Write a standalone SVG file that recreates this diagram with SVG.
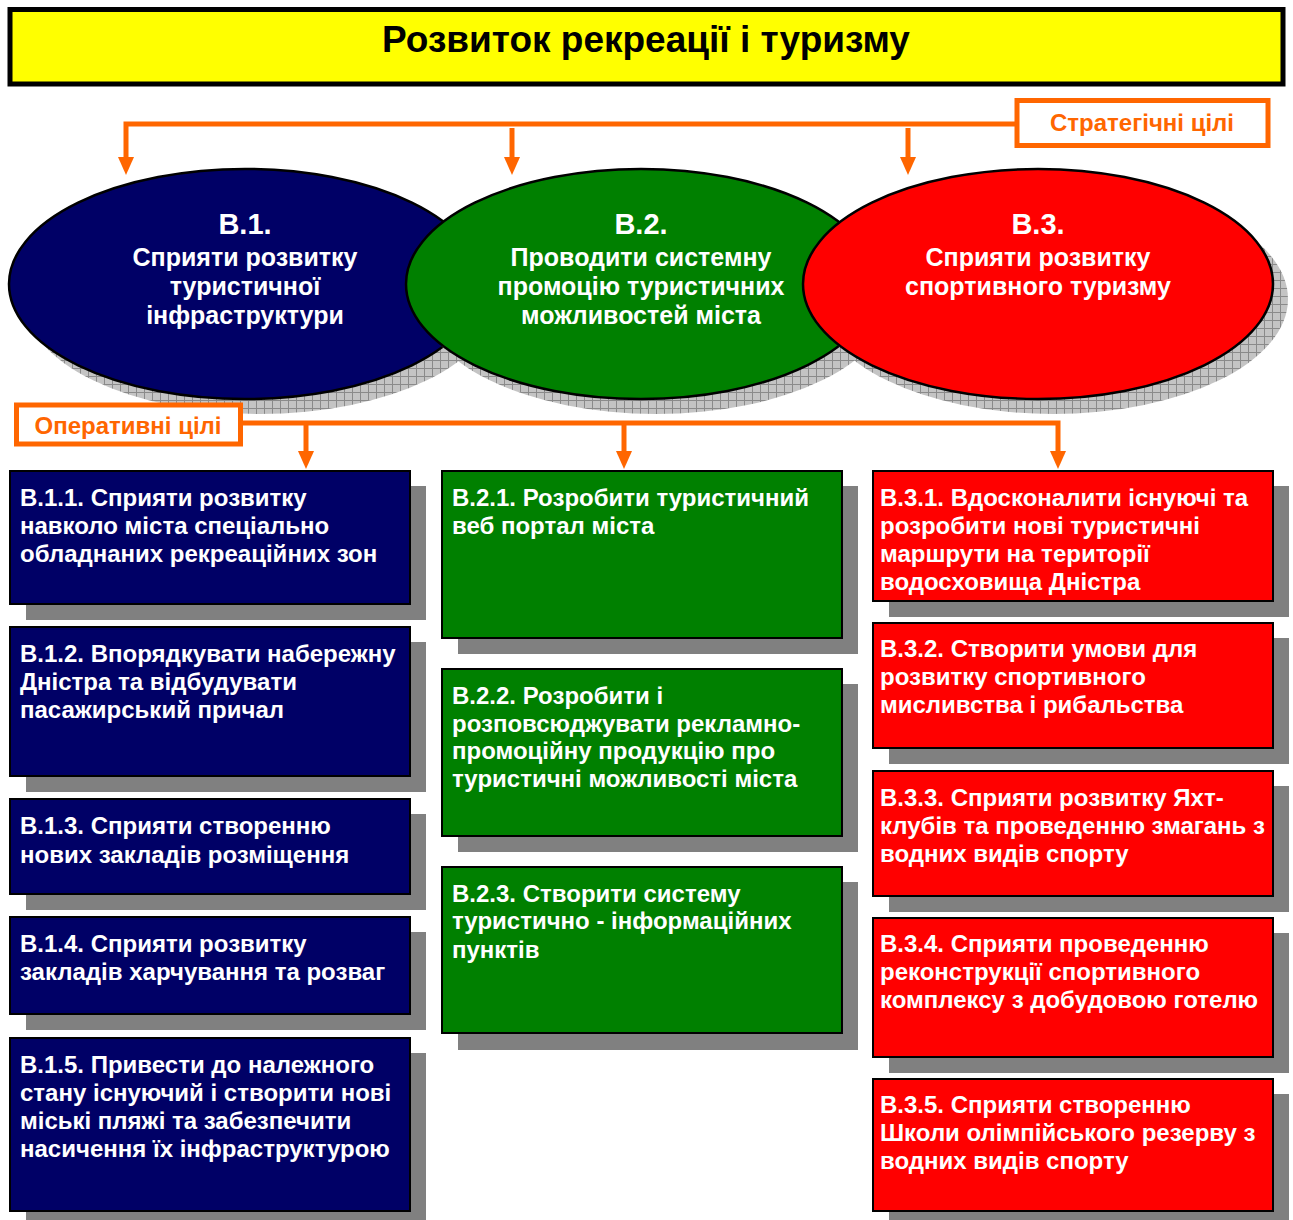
<svg xmlns="http://www.w3.org/2000/svg" width="1293" height="1220" viewBox="0 0 1293 1220">
<defs>
<pattern id="hatch" width="8" height="8" patternUnits="userSpaceOnUse">
<rect width="8" height="8" fill="#c4c4c4"/>
<path d="M0 0.5H8M0.5 0V8" stroke="#8a8a8a" stroke-width="1"/>
</pattern>
<marker id="arr" markerUnits="userSpaceOnUse" markerWidth="18" markerHeight="16" refX="0" refY="8" orient="auto" viewBox="0 0 18 16">
<path d="M0 0L18 8L0 16Z" fill="#FF6600"/>
</marker>
<style>
.ttl{font-family:"Liberation Sans",Arial,sans-serif;font-weight:bold;font-size:37px;fill:#000;text-anchor:middle}
.lbl{font-family:"Liberation Sans",Arial,sans-serif;font-weight:bold;font-size:24px;fill:#FF6600;text-anchor:middle}
.ell{stroke:#000;stroke-width:2.5}
.sh{fill:url(#hatch)}
.et{font-family:"Liberation Sans",Arial,sans-serif;font-weight:bold;fill:#fff;text-anchor:middle}
.eh{font-size:29px}
.eb{font-size:25px}
.box{stroke:#000;stroke-width:2}
.bsh{fill:#808080}
.bt{font-family:"Liberation Sans",Arial,sans-serif;font-weight:bold;font-size:24px;fill:#fff}
.con{fill:none;stroke:#FF6600;stroke-width:5}
.b1{fill:#000066}.b2{fill:#008000}.b3{fill:#FF0000}
</style>
</defs>

<g id="title">
<rect x="10" y="9.5" width="1273" height="74.5" fill="#FFFF00" stroke="#000" stroke-width="5"/>
<text class="ttl" x="646" y="52">Розвиток рекреації і туризму</text>
</g>

<g id="connectors">
<path class="con" d="M1017 124H126V157" marker-end="url(#arr)"/>
<path class="con" d="M512 128V157" marker-end="url(#arr)"/>
<path class="con" d="M908 128V157" marker-end="url(#arr)"/>
<path class="con" d="M241 423H1058V451" marker-end="url(#arr)"/>
<path class="con" d="M306 423V451" marker-end="url(#arr)"/>
<path class="con" d="M624 423V451" marker-end="url(#arr)"/>
</g>

<g id="label-strategic">
<rect x="1017" y="100.5" width="251" height="45" fill="#fff" stroke="#FF6600" stroke-width="5"/>
<text class="lbl" x="1142" y="131">Стратегічні цілі</text>
</g>

<g id="B1">
<ellipse class="sh" cx="260" cy="299" rx="236" ry="115"/>
<ellipse class="ell" cx="245" cy="284" rx="236" ry="115" fill="#000066"/>
<text class="et eh" x="245" y="234">B.1.</text>
<text class="et eb" x="245" y="266">Сприяти розвитку</text>
<text class="et eb" x="245" y="295">туристичної</text>
<text class="et eb" x="245" y="324">інфраструктури</text>
</g>
<g id="B2">
<ellipse class="sh" cx="656" cy="299" rx="235" ry="115"/>
<ellipse class="ell" cx="641" cy="284" rx="235" ry="115" fill="#008000"/>
<text class="et eh" x="641" y="234">B.2.</text>
<text class="et eb" x="641" y="266">Проводити системну</text>
<text class="et eb" x="641" y="295">промоцію туристичних</text>
<text class="et eb" x="641" y="324">можливостей міста</text>
</g>
<g id="B3">
<ellipse class="sh" cx="1053" cy="299" rx="235" ry="115"/>
<ellipse class="ell" cx="1038" cy="284" rx="235" ry="115" fill="#FF0000"/>
<text class="et eh" x="1038" y="234">B.3.</text>
<text class="et eb" x="1038" y="266">Сприяти розвитку</text>
<text class="et eb" x="1038" y="295">спортивного туризму</text>
</g>

<g id="label-operative">
<rect x="16.5" y="405" width="224" height="39" fill="#fff" stroke="#FF6600" stroke-width="5"/>
<text class="lbl" x="128" y="434">Оперативні цілі</text>
</g>

<g id="B11">
<rect class="bsh" x="26" y="486" width="400" height="134"/>
<rect class="box b1" x="10" y="471" width="400" height="133"/>
<text class="bt"><tspan x="20" y="506">B.1.1. Сприяти розвитку</tspan><tspan x="20" y="534">навколо міста спеціально</tspan><tspan x="20" y="562">обладнаних рекреаційних зон</tspan></text>
</g>
<g id="B12">
<rect class="bsh" x="26" y="642" width="400" height="150"/>
<rect class="box b1" x="10" y="627" width="400" height="149"/>
<text class="bt"><tspan x="20" y="662">B.1.2. Впорядкувати набережну</tspan><tspan x="20" y="690">Дністра та відбудувати</tspan><tspan x="20" y="718">пасажирський причал</tspan></text>
</g>
<g id="B13">
<rect class="bsh" x="26" y="814" width="400" height="96"/>
<rect class="box b1" x="10" y="799" width="400" height="95"/>
<text class="bt"><tspan x="20" y="834">B.1.3. Сприяти створенню</tspan><tspan x="20" y="863">нових закладів розміщення</tspan></text>
</g>
<g id="B14">
<rect class="bsh" x="26" y="932" width="400" height="98"/>
<rect class="box b1" x="10" y="917" width="400" height="97"/>
<text class="bt"><tspan x="20" y="952">B.1.4. Сприяти розвитку</tspan><tspan x="20" y="980">закладів харчування та розваг</tspan></text>
</g>
<g id="B15">
<rect class="bsh" x="26" y="1053" width="400" height="174"/>
<rect class="box b1" x="10" y="1038" width="400" height="173"/>
<text class="bt"><tspan x="20" y="1073">B.1.5. Привести до належного</tspan><tspan x="20" y="1101">стану існуючий і створити нові</tspan><tspan x="20" y="1129">міські пляжі та забезпечити</tspan><tspan x="20" y="1157">насичення їх інфраструктурою</tspan></text>
</g>

<g id="B21">
<rect class="bsh" x="458" y="486" width="400" height="168"/>
<rect class="box b2" x="442" y="471" width="400" height="167"/>
<text class="bt"><tspan x="452" y="506">B.2.1. Розробити туристичний</tspan><tspan x="452" y="534">веб портал міста</tspan></text>
</g>
<g id="B22">
<rect class="bsh" x="458" y="684" width="400" height="168"/>
<rect class="box b2" x="442" y="669" width="400" height="167"/>
<text class="bt"><tspan x="452" y="704">B.2.2. Розробити і</tspan><tspan x="452" y="732">розповсюджувати рекламно-</tspan><tspan x="452" y="759">промоційну продукцію про</tspan><tspan x="452" y="787">туристичні можливості міста</tspan></text>
</g>
<g id="B23">
<rect class="bsh" x="458" y="882" width="400" height="168"/>
<rect class="box b2" x="442" y="867" width="400" height="166"/>
<text class="bt"><tspan x="452" y="902">B.2.3. Створити систему</tspan><tspan x="452" y="929">туристично - інформаційних</tspan><tspan x="452" y="958">пунктів</tspan></text>
</g>

<g id="B31">
<rect class="bsh" x="889" y="486" width="400" height="131"/>
<rect class="box b3" x="873" y="471" width="400" height="130"/>
<text class="bt"><tspan x="880" y="506">B.3.1. Вдосконалити існуючі та</tspan><tspan x="880" y="534">розробити нові туристичні</tspan><tspan x="880" y="562">маршрути на території</tspan><tspan x="880" y="590">водосховища Дністра</tspan></text>
</g>
<g id="B32">
<rect class="bsh" x="889" y="638" width="400" height="126"/>
<rect class="box b3" x="873" y="623" width="400" height="125"/>
<text class="bt"><tspan x="880" y="657">B.3.2. Створити умови для</tspan><tspan x="880" y="685">розвитку спортивного</tspan><tspan x="880" y="713">мисливства і рибальства</tspan></text>
</g>
<g id="B33">
<rect class="bsh" x="889" y="786" width="400" height="126"/>
<rect class="box b3" x="873" y="771" width="400" height="125"/>
<text class="bt"><tspan x="880" y="806">B.3.3. Сприяти розвитку Яхт-</tspan><tspan x="880" y="834">клубів та проведенню змагань з</tspan><tspan x="880" y="862">водних видів спорту</tspan></text>
</g>
<g id="B34">
<rect class="bsh" x="889" y="933" width="400" height="140"/>
<rect class="box b3" x="873" y="918" width="400" height="139"/>
<text class="bt"><tspan x="880" y="952">B.3.4. Сприяти проведенню</tspan><tspan x="880" y="980">реконструкції спортивного</tspan><tspan x="880" y="1008">комплексу з добудовою готелю</tspan></text>
</g>
<g id="B35">
<rect class="bsh" x="889" y="1094" width="400" height="133"/>
<rect class="box b3" x="873" y="1079" width="400" height="132"/>
<text class="bt"><tspan x="880" y="1113">B.3.5. Сприяти створенню</tspan><tspan x="880" y="1141">Школи олімпійського резерву з</tspan><tspan x="880" y="1169">водних видів спорту</tspan></text>
</g>
</svg>
